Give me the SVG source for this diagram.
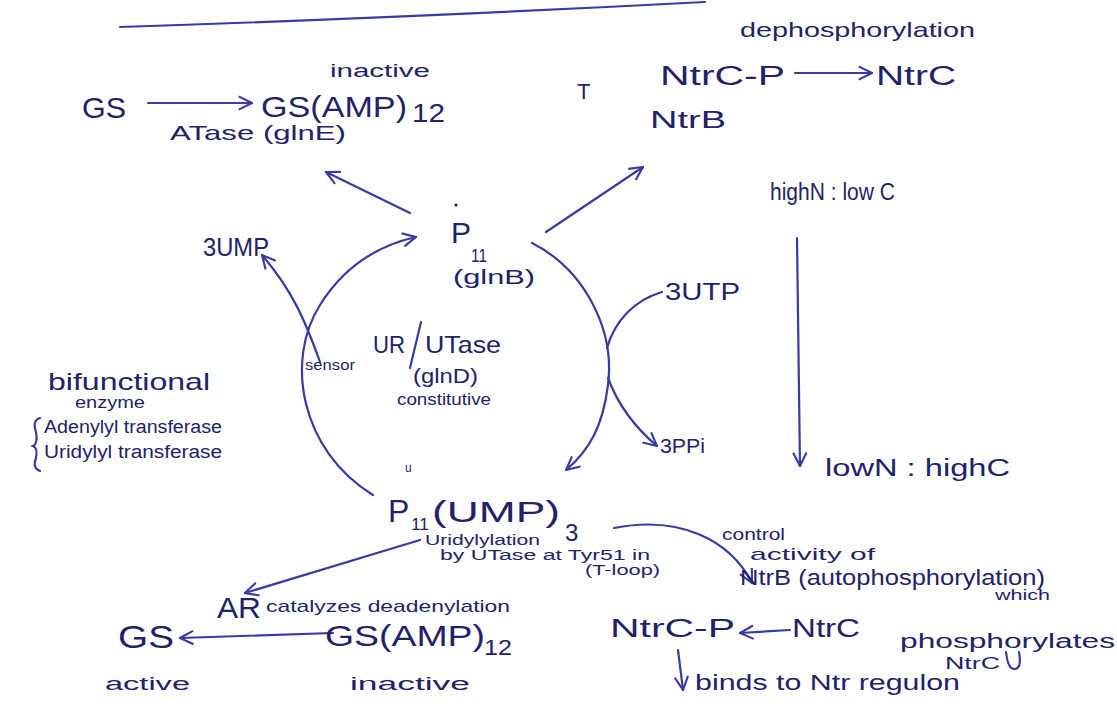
<svg xmlns="http://www.w3.org/2000/svg" width="1117" height="719" viewBox="0 0 1117 719">
<defs>
<style>
text{font-family:"Liberation Sans","DejaVu Sans",sans-serif;fill:#22226a}
.c{fill:none;stroke:#3a3aa6;stroke-width:2.2;stroke-linecap:round}
.a{marker-end:url(#ah)}
</style>
<marker id="ah" viewBox="0 0 12 12" refX="11" refY="6" markerWidth="16" markerHeight="16" markerUnits="userSpaceOnUse" orient="auto">
<path d="M1,1 L11,6 L1,11" fill="none" stroke="#3a3aa6" stroke-width="1.6"/>
</marker>
</defs>
<rect width="1117" height="719" fill="#fff"/>
<g id="connectors">
<path class="c" d="M120,27 Q400,18 705,2"/>
<path class="c a" d="M148,103 L252,103"/>
<path class="c a" d="M795,73 L872,73"/>
<path class="c a" d="M546,232 L643,167"/>
<path class="c a" d="M410,213 L326,172"/>
<path class="c a" d="M373,495 C300,450 285,360 320,305 C345,265 380,245 416,237"/>
<path class="c a" d="M320,362 C305,320 292,290 262,255"/>
<path class="c a" d="M532,243 C585,270 615,330 608,385 C603,425 590,450 566,470"/>
<path class="c" d="M662,292 C635,300 615,320 607,348"/>
<path class="c a" d="M608,378 C620,410 638,430 657,446"/>
<path class="c" d="M421,322 L410,368"/>
<path class="c a" d="M797,238 L800,466"/>
<path class="c a" d="M420,540 L245,593"/>
<path class="c a" d="M333,633 L180,638"/>
<path class="c a" d="M614,528 C680,515 730,540 752,583"/>
<path class="c a" d="M790,630 L740,633"/>
<path class="c a" d="M678,650 L683,690"/>
<path class="c" d="M40,418 Q32,420 36,432 Q38,444 33,446 Q38,448 36,458 Q32,468 40,471"/>
<path class="c" d="M1006,652 Q1008,670 1015,669 Q1022,668 1019,652"/>
</g>
<g id="gs-top"><text x="82" y="118" font-size="30" textLength="44" lengthAdjust="spacingAndGlyphs">GS</text></g>
<g id="gs-amp-top">
<text x="261" y="117" font-size="30" textLength="146" lengthAdjust="spacingAndGlyphs">GS(AMP)</text>
<text x="412" y="122" font-size="26" textLength="33" lengthAdjust="spacingAndGlyphs">12</text>
<text x="330" y="77" font-size="18" textLength="100" lengthAdjust="spacingAndGlyphs">inactive</text>
<text x="170" y="140" font-size="21" textLength="176" lengthAdjust="spacingAndGlyphs">ATase (glnE)</text>
</g>
<g id="stray"><text x="577" y="99" font-size="22" fill="#555">T</text></g>
<g id="ntrc-dephos">
<text x="740" y="37" font-size="21" textLength="235" lengthAdjust="spacingAndGlyphs">dephosphorylation</text>
<text x="660" y="85" font-size="27" textLength="125" lengthAdjust="spacingAndGlyphs">NtrC-P</text>
<text x="876" y="85" font-size="27" textLength="80" lengthAdjust="spacingAndGlyphs">NtrC</text>
</g>
<g id="ntrb-top"><text x="650" y="128" font-size="24" textLength="76" lengthAdjust="spacingAndGlyphs">NtrB</text></g>
<g id="highN"><text x="770" y="200" font-size="23" textLength="125" lengthAdjust="spacingAndGlyphs">highN : low C</text></g>
<g id="lowN"><text x="825" y="476" font-size="23" textLength="185" lengthAdjust="spacingAndGlyphs">lowN : highC</text></g>
<g id="pii">
<circle cx="456" cy="205" r="1.6" fill="#22226a"/>
<text x="451" y="243" font-size="30">P</text>
<text x="471" y="262" font-size="18" textLength="16" lengthAdjust="spacingAndGlyphs">11</text>
<text x="453" y="284" font-size="20" textLength="82" lengthAdjust="spacingAndGlyphs">(glnB)</text>
</g>
<g id="ump"><text x="203" y="256" font-size="25" textLength="66" lengthAdjust="spacingAndGlyphs">3UMP</text></g>
<g id="sensor"><text x="305" y="370" font-size="15" textLength="50" lengthAdjust="spacingAndGlyphs">sensor</text></g>
<g id="ur-utase">
<text x="373" y="353" font-size="24" textLength="32" lengthAdjust="spacingAndGlyphs">UR</text>
<text x="425" y="353" font-size="24" textLength="76" lengthAdjust="spacingAndGlyphs">UTase</text>
<text x="413" y="383" font-size="20" textLength="65" lengthAdjust="spacingAndGlyphs">(glnD)</text>
<text x="397" y="405" font-size="16" textLength="94" lengthAdjust="spacingAndGlyphs">constitutive</text>
</g>
<g id="utp"><text x="665" y="300" font-size="23" textLength="75" lengthAdjust="spacingAndGlyphs">3UTP</text></g>
<g id="ppi"><text x="660" y="453" font-size="21" textLength="45" lengthAdjust="spacingAndGlyphs">3PPi</text></g>
<g id="bifunctional">
<text x="48" y="390" font-size="24" textLength="162" lengthAdjust="spacingAndGlyphs">bifunctional</text>
<text x="75" y="408" font-size="16" textLength="70" lengthAdjust="spacingAndGlyphs">enzyme</text>
<text x="44" y="433" font-size="18" textLength="178" lengthAdjust="spacingAndGlyphs">Adenylyl transferase</text>
<text x="44" y="458" font-size="18" textLength="178" lengthAdjust="spacingAndGlyphs">Uridylyl transferase</text>
</g>
<g id="pii-ump">
<text x="405" y="472" font-size="12">u</text>
<text x="388" y="522" font-size="32">P</text>
<text x="411" y="530" font-size="16" textLength="18" lengthAdjust="spacingAndGlyphs">11</text>
<text x="432" y="522" font-size="30" textLength="128" lengthAdjust="spacingAndGlyphs">(UMP)</text>
<text x="565" y="541" font-size="24">3</text>
<text x="425" y="545" font-size="14" textLength="115" lengthAdjust="spacingAndGlyphs">Uridylylation</text>
<text x="440" y="560" font-size="14" textLength="210" lengthAdjust="spacingAndGlyphs">by UTase at Tyr51 in</text>
<text x="585" y="575" font-size="14" textLength="75" lengthAdjust="spacingAndGlyphs">(T-loop)</text>
</g>
<g id="ar">
<text x="217" y="618" font-size="30" textLength="44" lengthAdjust="spacingAndGlyphs">AR</text>
<text x="266" y="612" font-size="17" textLength="244" lengthAdjust="spacingAndGlyphs">catalyzes deadenylation</text>
</g>
<g id="gs-active">
<text x="118" y="648" font-size="32" textLength="56" lengthAdjust="spacingAndGlyphs">GS</text>
<text x="105" y="690" font-size="18" textLength="85" lengthAdjust="spacingAndGlyphs">active</text>
</g>
<g id="gs-amp-bottom">
<text x="325" y="646" font-size="30" textLength="160" lengthAdjust="spacingAndGlyphs">GS(AMP)</text>
<text x="484" y="655" font-size="22" textLength="28" lengthAdjust="spacingAndGlyphs">12</text>
<text x="350" y="690" font-size="18" textLength="120" lengthAdjust="spacingAndGlyphs">inactive</text>
</g>
<g id="ntrb-control">
<text x="722" y="540" font-size="16" textLength="63" lengthAdjust="spacingAndGlyphs">control</text>
<text x="750" y="560" font-size="17" textLength="125" lengthAdjust="spacingAndGlyphs">activity of</text>
<text x="740" y="585" font-size="22" textLength="305" lengthAdjust="spacingAndGlyphs">NtrB (autophosphorylation)</text>
<text x="995" y="600" font-size="14" textLength="55" lengthAdjust="spacingAndGlyphs">which</text>
<text x="900" y="648" font-size="20" textLength="215" lengthAdjust="spacingAndGlyphs">phosphorylates</text>
<text x="945" y="669" font-size="16" textLength="55" lengthAdjust="spacingAndGlyphs">NtrC</text>
</g>
<g id="ntrc-bottom">
<text x="610" y="637" font-size="26" textLength="125" lengthAdjust="spacingAndGlyphs">NtrC-P</text>
<text x="792" y="637" font-size="26" textLength="68" lengthAdjust="spacingAndGlyphs">NtrC</text>
<text x="695" y="690" font-size="22" textLength="265" lengthAdjust="spacingAndGlyphs">binds to Ntr regulon</text>
</g>
</svg>
